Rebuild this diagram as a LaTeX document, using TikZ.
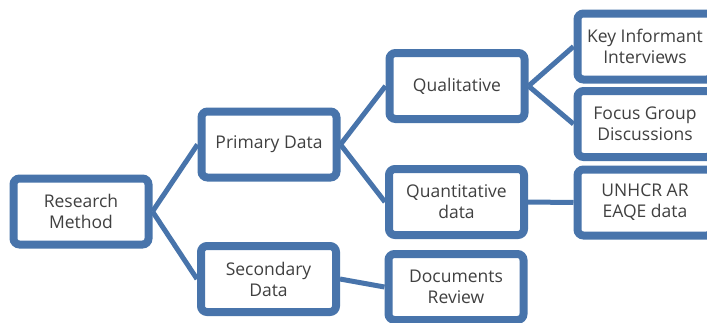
\documentclass[tikz,border=0pt]{standalone}
\usepackage{fontspec}
\setmainfont{Open Sans}
\usetikzlibrary{shadows,backgrounds}
\definecolor{frameblue}{HTML}{4874AB}
\definecolor{labelgrey}{HTML}{404040}
\tikzset{
  box/.style={draw=frameblue, line width=8pt, fill=white, rounded corners=6pt,
    minimum width=135pt, minimum height=66pt, inner sep=0pt, align=center,
    text=labelgrey, font=\fontsize{17.5}{21}\selectfont,
    drop shadow={shadow xshift=1.5pt, shadow yshift=-2.5pt, opacity=0.25, fill=black}},
  link/.style={draw=frameblue, line width=5pt}
}
\begin{document}
\begin{tikzpicture}[x=1pt, y=-1pt]
  \useasboundingbox (0,0) rectangle (707,322);
  \clip (0,0) rectangle (707,322);

  % boxes
  \node[box] (rm) at (81,211.5) {Research\\Method};
  \node[box] (pd) at (269,144.5) {Primary Data};
  \node[box] (sd) at (268.5,279) {Secondary\\Data};
  \node[box] (ql) at (457,86) {Qualitative};
  \node[box] (qn) at (456.5,202) {Quantitative\\data};
  \node[box] (dr) at (456,287) {Documents\\Review};
  \node[box] (ki) at (645,46.5) {Key Informant\\Interviews};
  \node[box] (fg) at (645,124) {Focus Group\\Discussions};
  \node[box] (un) at (645,202.5) {UNHCR AR\\EAQE data};

  % connectors run behind the boxes, side centre to side centre
  \begin{scope}[on background layer]
    \draw[link] (rm.east) -- (pd.west);
    \draw[link] (rm.east) -- (sd.west);
    \draw[link] (pd.east) -- (ql.west);
    \draw[link] (pd.east) -- (qn.west);
    \draw[link] (sd.east) -- (dr.west);
    \draw[link] (ql.east) -- (ki.west);
    \draw[link] (ql.east) -- (fg.west);
    \draw[link] (qn.east) -- (un.west);
  \end{scope}
\end{tikzpicture}
\end{document}
